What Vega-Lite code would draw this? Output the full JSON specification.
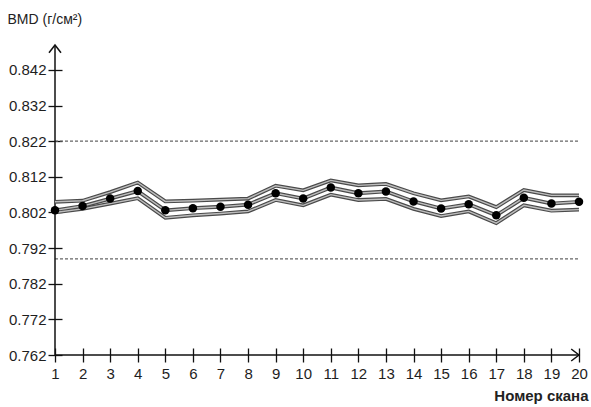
{
  "$schema": "https://vega.github.io/schema/vega-lite/v6.json",
  "width": 524,
  "height": 310,
  "autosize": "none",
  "padding": {"left": 55, "top": 45, "right": 12, "bottom": 52},
  "background": "#ffffff",
  "config": {
    "view": {"stroke": null},
    "font": "Liberation Sans",
    "axis": {
      "labelOverlap": false,
      "labelFontSize": 15,
      "labelFont": "Liberation Sans",
      "labelColor": "#1e1e1e",
      "grid": false,
      "domain": false,
      "tickColor": "#111111",
      "tickWidth": 1.3,
      "tickSize": 14
    }
  },
  "datasets": {
    "scans": [
      {"x": 1, "center": 0.8026, "upper": 0.8050, "lower": 0.8020},
      {"x": 2, "center": 0.8038, "upper": 0.8053, "lower": 0.8030},
      {"x": 3, "center": 0.8059, "upper": 0.8077, "lower": 0.8045},
      {"x": 4, "center": 0.8080, "upper": 0.8104, "lower": 0.8060},
      {"x": 5, "center": 0.8026, "upper": 0.8051, "lower": 0.8005},
      {"x": 6, "center": 0.8032, "upper": 0.8053, "lower": 0.8012},
      {"x": 7, "center": 0.8036, "upper": 0.8056, "lower": 0.8017},
      {"x": 8, "center": 0.8042, "upper": 0.8059, "lower": 0.8023},
      {"x": 9, "center": 0.8074, "upper": 0.8095, "lower": 0.8055},
      {"x": 10, "center": 0.8059, "upper": 0.8082, "lower": 0.8040},
      {"x": 11, "center": 0.8090, "upper": 0.8110, "lower": 0.8070},
      {"x": 12, "center": 0.8074, "upper": 0.8096, "lower": 0.8055},
      {"x": 13, "center": 0.8079, "upper": 0.8100, "lower": 0.8058},
      {"x": 14, "center": 0.8051, "upper": 0.8074, "lower": 0.8030},
      {"x": 15, "center": 0.8031, "upper": 0.8054, "lower": 0.8010},
      {"x": 16, "center": 0.8043, "upper": 0.8065, "lower": 0.8023},
      {"x": 17, "center": 0.8012, "upper": 0.8035, "lower": 0.7990},
      {"x": 18, "center": 0.8061, "upper": 0.8083, "lower": 0.8040},
      {"x": 19, "center": 0.8045, "upper": 0.8068, "lower": 0.8025},
      {"x": 20, "center": 0.8050, "upper": 0.8068, "lower": 0.8028}
    ],
    "refs": [{"x": 1, "x2": 20, "y": 0.822}, {"x": 1, "x2": 20, "y": 0.789}],
    "yaxisline": [{"x": 1, "y": 0.762, "y2": 0.849}],
    "xaxisline": [{"x": 1, "x2": 20, "y": 0.762}],
    "yarrow": [{"x": 1, "y": 0.849}],
    "xarrow": [{"x": 20, "y": 0.762}]
  },
  "encoding": {
    "x": {
      "field": "x", "type": "quantitative",
      "scale": {"domain": [1, 20], "nice": false, "zero": false},
      "axis": {
        "values": [1, 2, 3, 4, 5, 6, 7, 8, 9, 10, 11, 12, 13, 14, 15, 16, 17, 18, 19, 20],
        "format": "d",
        "offset": -7,
        "labelPadding": 4,
        "labelFlush": false,
        "title": "Номер скана",
        "titleFont": "Liberation Sans",
        "titleFontSize": 15,
        "titleFontWeight": "bold",
        "titleColor": "#222222",
        "titleAlign": "right",
        "titleBaseline": "middle",
        "titleX": 533,
        "titleY": 47
      }
    },
    "y": {
      "field": "y", "type": "quantitative",
      "scale": {"domain": [0.762, 0.849], "nice": false, "zero": false},
      "axis": {
        "values": [0.762, 0.772, 0.782, 0.792, 0.802, 0.812, 0.822, 0.832, 0.842],
        "format": ".3f",
        "offset": -7,
        "labelPadding": 2,
        "title": "BMD (г/см²)",
        "titleFont": "Liberation Sans",
        "titleFontSize": 14,
        "titleFontWeight": "normal",
        "titleColor": "#222222",
        "titleAngle": 0,
        "titleAlign": "left",
        "titleBaseline": "middle",
        "titleX": -55,
        "titleY": -26
      }
    }
  },
  "layer": [
    {
      "data": {"name": "refs"},
      "mark": {"type": "rule", "color": "#666666", "strokeWidth": 1.2, "strokeDash": [3, 2]},
      "encoding": {"x2": {"field": "x2"}}
    },
    {
      "data": {"name": "yaxisline"},
      "mark": {"type": "rule", "color": "#111111", "strokeWidth": 1.5},
      "encoding": {"y2": {"field": "y2"}}
    },
    {
      "data": {"name": "xaxisline"},
      "mark": {"type": "rule", "color": "#111111", "strokeWidth": 1.5},
      "encoding": {"x2": {"field": "x2"}}
    },
    {
      "data": {"name": "yarrow"},
      "mark": {"type": "point", "shape": "M-1,1.3L0,0L1,1.3", "size": 144, "filled": false, "stroke": "#111111", "strokeWidth": 1.5, "opacity": 1}
    },
    {
      "data": {"name": "xarrow"},
      "mark": {"type": "point", "shape": "M-1.3,-1L0,0L-1.3,1", "size": 144, "filled": false, "stroke": "#111111", "strokeWidth": 1.5, "opacity": 1}
    },
    {
      "data": {"name": "scans"},
      "transform": [{"fold": ["upper", "center", "lower"], "as": ["series", "y"]}],
      "mark": {"type": "line", "color": "#4a4a4a", "strokeWidth": 3.8},
      "encoding": {"detail": {"field": "series"}}
    },
    {
      "data": {"name": "scans"},
      "transform": [{"fold": ["upper", "center", "lower"], "as": ["series", "y"]}],
      "mark": {"type": "line", "color": "#bdbdbd", "strokeWidth": 1.4},
      "encoding": {"detail": {"field": "series"}}
    },
    {
      "data": {"name": "scans"},
      "transform": [{"fold": ["center"], "as": ["series", "y"]}],
      "mark": {"type": "point", "shape": "circle", "filled": true, "color": "#000000", "size": 72, "opacity": 1}
    }
  ]
}
